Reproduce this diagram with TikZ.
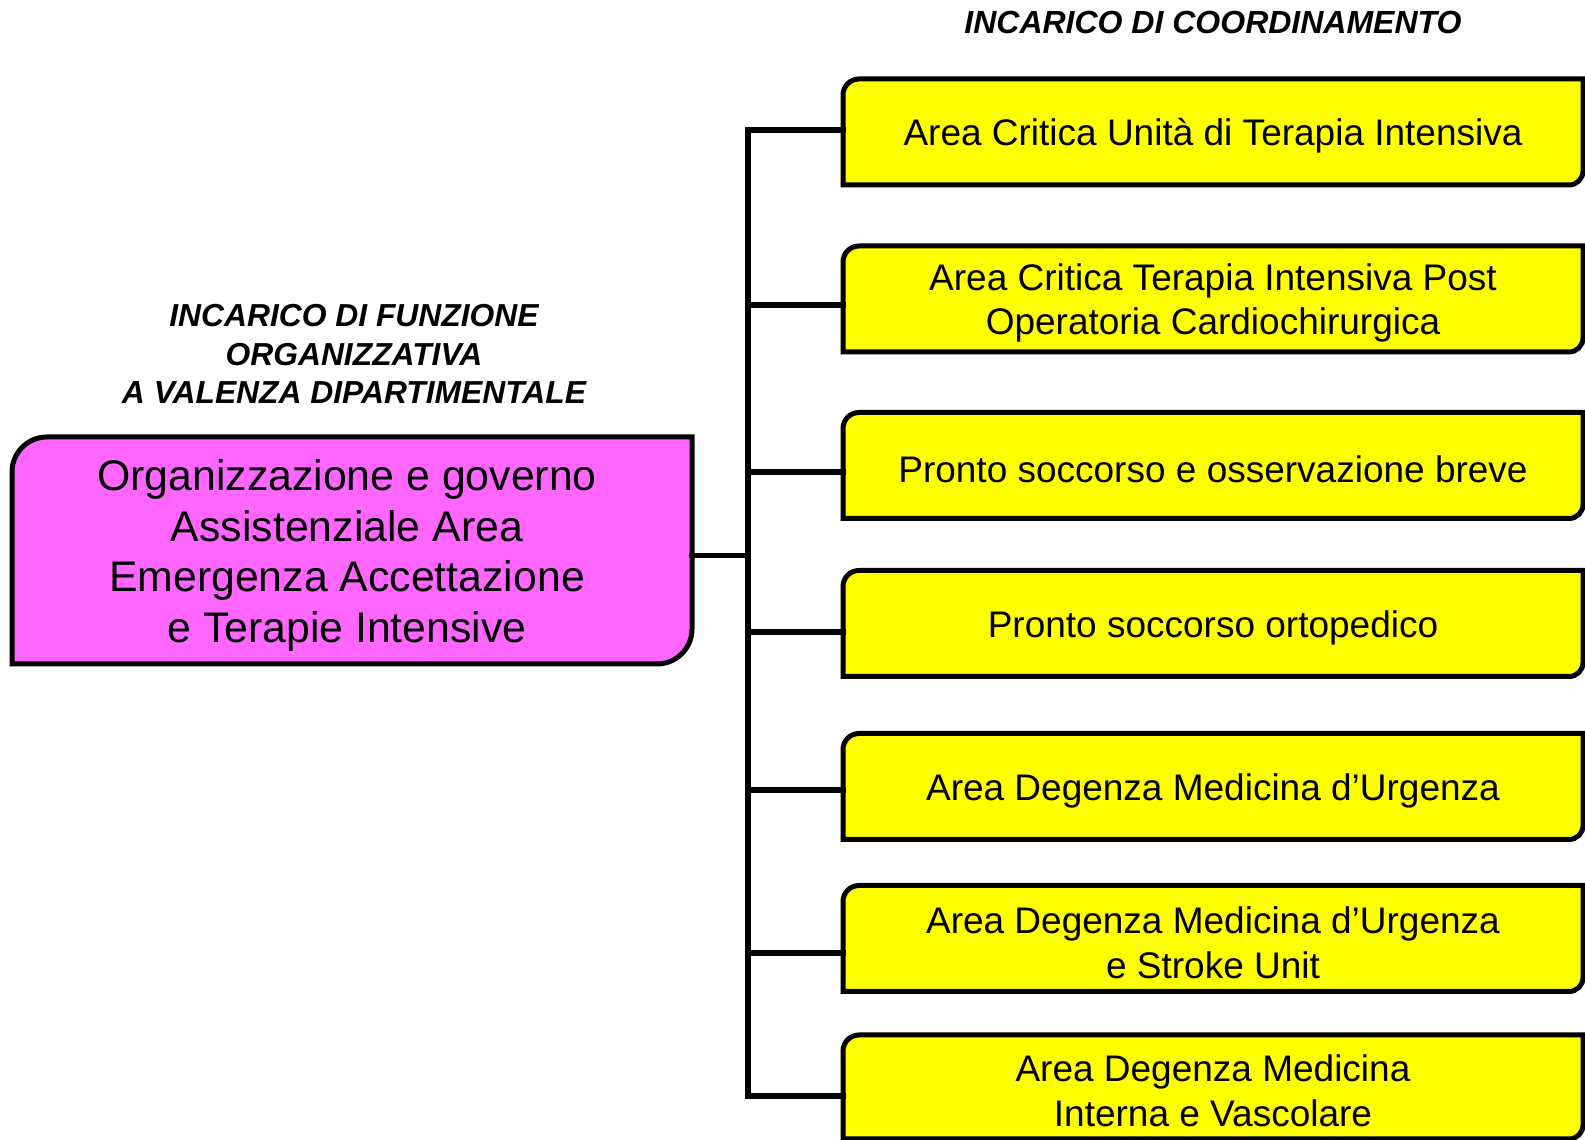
\documentclass[tikz,border=0pt]{standalone}
\usepackage{fontspec}
\setmainfont{Liberation Sans}
\usepackage{tikz}
\usetikzlibrary{backgrounds,calc,positioning}
\definecolor{headpink}{HTML}{FF66FF}
\definecolor{unityellow}{HTML}{FFFF00}
\tikzset{%
	headbox/.style  = {rectangle, minimum width=340pt, minimum height=113.5pt, inner sep=0pt, outer sep=0pt, align=center, font=\fontsize{21.4}{25.4}\selectfont}, % Department
	unitbox/.style  = {rectangle, minimum width=370pt, minimum height=53pt, inner sep=0pt, outer sep=0pt, align=center, font=\fontsize{18.5}{22.3}\selectfont}, % Unit
	tagline/.style  = {align=center, font=\fontsize{16}{19.2}\selectfont\bfseries\itshape}, % Heading
	frame/.style    = {line width=2.5pt},
	link/.style     = {line width=2.6pt, line cap=rect},
	waypoint/.style = {coordinate},
}

\begin{document}
\begin{tikzpicture}[x=0.5pt,y=0.5pt]
	\useasboundingbox (0,0) rectangle (1585,1140);
	\node [tagline] (coord) at (1213,1118) {INCARICO DI COORDINAMENTO};
	\node [tagline, font=\fontsize{15.9}{19.2}\selectfont\bfseries\itshape] (funz) at (354,786) {INCARICO DI FUNZIONE\\ORGANIZZATIVA\\A VALENZA DIPARTIMENTALE};
	\node [headbox] (head) at (347,584.5) {Organizzazione e governo\\Assistenziale Area\\Emergenza Accettazione\\e Terapie Intensive};
	\node [unitbox] (u1) at (1213,1004) {Area Critica Unità di Terapia Intensiva};
	\node [unitbox] (u2) at (1213,837) {Area Critica Terapia Intensiva Post\\Operatoria Cardiochirurgica};
	\node [unitbox] (u3) at (1213,670.5) {Pronto soccorso e osservazione breve};
	\node [unitbox] (u4) at (1213,512.5) {Pronto soccorso ortopedico};
	\node [unitbox] (u5) at (1213,349.5) {Area Degenza Medicina d’Urgenza};
	\node [unitbox] (u6) at (1213,197.5) {Area Degenza Medicina d’Urgenza\\e Stroke Unit};
	\node [unitbox, minimum height=52pt] (u7) at (1213,49) {Area Degenza Medicina\\Interna e Vascolare};
	\begin{scope}[on background layer]
		\draw[frame, fill=headpink] ([xshift=2.5pt,yshift=2.5pt]head.south west) -- ([xshift=2.5pt,yshift=-15pt]head.north west) arc[start angle=180, end angle=90, radius=17.5pt] -- ([xshift=2.5pt,yshift=2.5pt]head.north east) -- ([xshift=2.5pt,yshift=20pt]head.south east) arc[start angle=0, end angle=-90, radius=17.5pt] -- cycle;
		\foreach \u in {u1,u2,u3,u4,u5,u6,u7}
			\draw[frame, fill=unityellow] ([yshift=2pt]\u.south west) -- ([yshift=-6pt]\u.north west) arc[start angle=180, end angle=90, radius=8pt] -- ([yshift=2pt]\u.north east) -- ([yshift=9pt]\u.south east) arc[start angle=0, end angle=-90, radius=7pt] -- cycle;
	\end{scope}
	\foreach \i/\y in {1/1010,2/835,3/668,4/508,5/350,6/187,7/44}
		\node [waypoint] (t\i) at (748,\y) {};
	\draw[link] (t1) -- (t7);
	\foreach \i in {1,...,7}
		\draw[link] (t\i) -- (t\i -| u\i.west);
	\draw[link] ([xshift=2.5pt]head.east) -- (head.east -| t1);
\end{tikzpicture}
\end{document}
